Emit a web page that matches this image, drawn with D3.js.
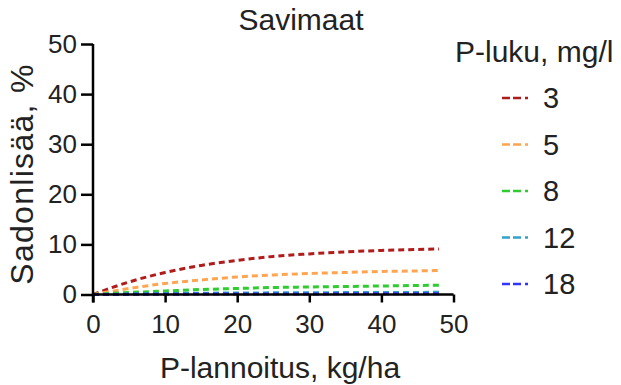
<!DOCTYPE html>
<html>
<head>
<meta charset="utf-8">
<script src="https://cdn.jsdelivr.net/npm/d3@7"></script>
<style>
  body { margin: 0; background: #fff; }
  svg { display: block; font-family: "Liberation Sans", Arial, sans-serif; }
</style>
</head>
<body>
<svg id="chart" width="621" height="385"></svg>
<script>
// P-lannoitus (kg/ha) sampling points
const xValues = [0, 5, 10, 15, 20, 25, 30, 35, 40, 45, 48];

// Sadonlisä (%) for each P-luku class
const series3  = [0, 2.5, 4.4, 5.8, 6.8, 7.6, 8.1, 8.5, 8.8, 9.0, 9.1];
const series5  = [0, 1.2, 2.2, 2.9, 3.5, 3.9, 4.2, 4.4, 4.6, 4.7, 4.8];
const series8  = [0, 0.4, 0.7, 1.0, 1.2, 1.4, 1.5, 1.6, 1.7, 1.8, 1.85];
const series12 = [0, 0.1, 0.2, 0.25, 0.3, 0.33, 0.36, 0.38, 0.4, 0.42, 0.43];
const series18 = [0, 0.03, 0.06, 0.08, 0.1, 0.11, 0.12, 0.13, 0.14, 0.15, 0.15];

const seriesNames = ["3", "5", "8", "12", "18"];
const seriesValues = [series3, series5, series8, series12, series18];
const seriesColors = ["#b01c1c", "#ffa552", "#2ecc2e", "#33a1c9", "#3333ff"];

const xTicks = [0, 10, 20, 30, 40, 50];
const yTicks = [0, 10, 20, 30, 40, 50];

const titleText = "Savimaat";
const xTitle = "P-lannoitus, kg/ha";
const yTitle = "Sadonlisää, %";
const legendTitle = "P-luku, mg/l";

const svg = d3.select("#chart");
const plotLeft = 93, plotRight = 453.5, plotTop = 44, plotBottom = 294.5;
const textColor = "#222";

const x = d3.scaleLinear().domain([0, 50]).range([plotLeft, plotRight]);
const y = d3.scaleLinear().domain([0, 50]).range([plotBottom, plotTop]);

// Curves
const line = d3.line()
  .x(d => x(d[0]))
  .y(d => y(d[1]))
  .curve(d3.curveMonotoneX);

seriesValues.forEach((vals, i) => {
  svg.append("path")
    .datum(xValues.map((xv, j) => [xv, vals[j]]))
    .attr("d", line)
    .attr("fill", "none")
    .attr("stroke", seriesColors[i])
    .attr("stroke-width", 3)
    .attr("stroke-dasharray", "6,4");
});

// Axes
const xAxis = d3.axisBottom(x).tickValues(xTicks).tickSize(8).tickPadding(12).tickFormat(d3.format("d"));
const gx = svg.append("g").attr("transform", `translate(0,${plotBottom})`).call(xAxis);
const yAxis = d3.axisLeft(y).tickValues(yTicks).tickSize(12).tickPadding(4).tickFormat(d3.format("d"));
const gy = svg.append("g").attr("transform", `translate(${plotLeft},0)`).call(yAxis);

[gx, gy].forEach(g => {
  g.select(".domain").attr("stroke", "#000").attr("stroke-width", 2.5);
  g.selectAll(".tick line").attr("stroke", "#000").attr("stroke-width", 2.5);
  g.selectAll(".tick text")
    .attr("fill", textColor)
    .attr("font-size", 26)
    .attr("font-family", "'Liberation Sans', Arial, sans-serif");
});
gx.select(".domain").attr("d", `M${plotLeft},0H${plotRight}`);
gy.select(".domain").attr("d", `M0,${plotTop}V${plotBottom + 8}`);

// Titles
svg.append("text")
  .attr("x", 301).attr("y", 30)
  .attr("text-anchor", "middle")
  .attr("font-size", 30).attr("fill", textColor)
  .text(titleText);

svg.append("text")
  .attr("x", 280).attr("y", 378)
  .attr("text-anchor", "middle")
  .attr("font-size", 30).attr("fill", textColor)
  .text(xTitle);

svg.append("text")
  .attr("transform", `translate(33,174) rotate(-90)`)
  .attr("text-anchor", "middle")
  .attr("font-size", 32).attr("fill", textColor)
  .attr("letter-spacing", 1.3)
  .text(yTitle);

// Legend
svg.append("text")
  .attr("x", 455).attr("y", 62)
  .attr("font-size", 30).attr("fill", textColor)
  .text(legendTitle);

const legendY = d3.scalePoint().domain(seriesNames).range([98, 284]);
seriesNames.forEach((name, i) => {
  const cy = legendY(name);
  svg.append("line")
    .attr("x1", 502).attr("x2", 529)
    .attr("y1", cy).attr("y2", cy)
    .attr("stroke", seriesColors[i])
    .attr("stroke-width", 2.5)
    .attr("stroke-dasharray", "8,3,8,4,3,10");
  svg.append("text")
    .attr("x", 543).attr("y", cy)
    .attr("dy", "0.36em")
    .attr("font-size", 29).attr("fill", textColor)
    .text(name);
});
</script>
</body>
</html>
